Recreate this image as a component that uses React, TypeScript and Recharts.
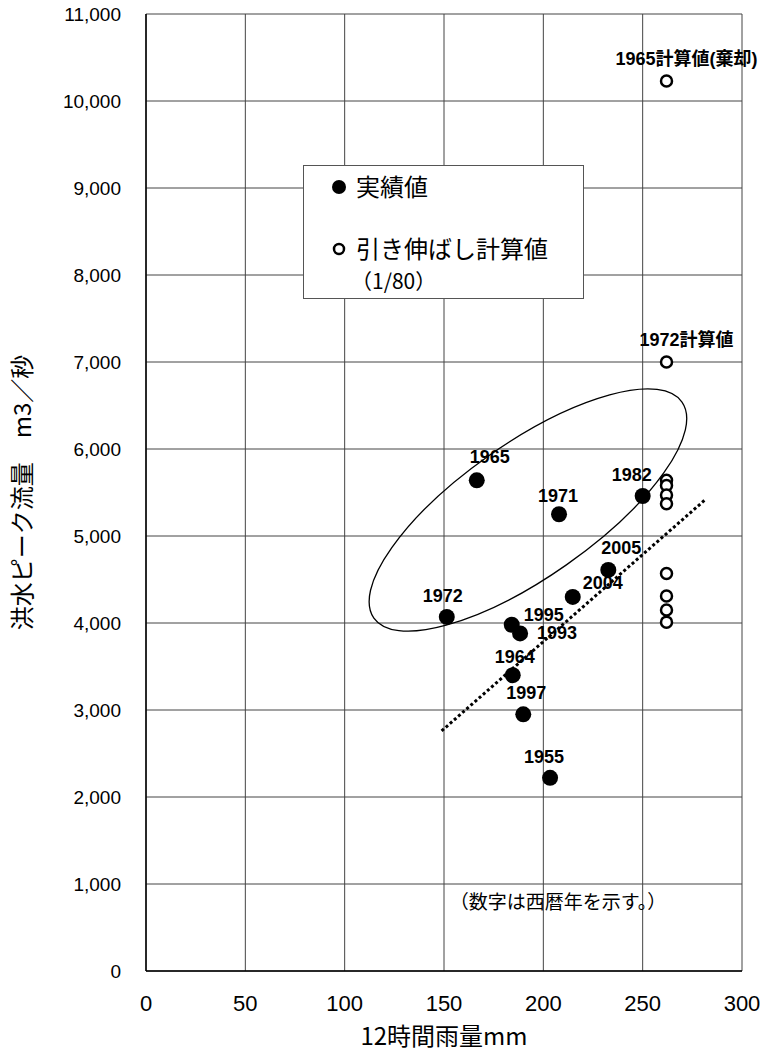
import {
  ScatterChart, Scatter, XAxis, YAxis, CartesianGrid, ReferenceLine, ReferenceDot, Legend,
} from 'recharts';

// measured (actual) floods
const YEARS = ['1965', '1971', '1982', '2005', '2004', '1972', '1995', '1993', '1964', '1997', '1955'];
const RAIN_12H = [166.5, 207.9, 250.0, 232.7, 214.8, 151.4, 184.1, 188.3, 184.6, 189.9, 203.4];
const PEAK_FLOW = [5640, 5250, 5460, 4610, 4300, 4070, 3980, 3880, 3400, 2950, 2220];

// stretched calculations (1/80)
const CALC_RAIN = [262, 262, 262, 262, 262, 262, 262, 262, 262, 262];
const CALC_PEAK = [10230, 7000, 5640, 5580, 5470, 5370, 4570, 4310, 4150, 4010];
const CALC_NAMES = ['1965計算値(棄却)', '1972計算値', '', '', '', '', '', '', '', ''];

const X_TICKS = [0, 50, 100, 150, 200, 250, 300];
const Y_TICKS = [0, 1000, 2000, 3000, 4000, 5000, 6000, 7000, 8000, 9000, 10000, 11000];

// trend (dotted) and grouping ellipse, in data units
const TREND = [{ x: 148.8, y: 2760 }, { x: 281.3, y: 5414 }];
const ELLIPSE_AXIS = [{ x: 114.7, y: 4057 }, { x: 269.8, y: 6540 }];
const ELLIPSE_RATIO = 0.356;

const NOTE = { x: 207.4, y: 793, text: '（数字は西暦年を示す。）' };

const actual = YEARS.map((year, i) => ({ year, x: RAIN_12H[i], y: PEAK_FLOW[i] }));
const calc = CALC_PEAK.map((y, i) => ({ x: CALC_RAIN[i], y, name: CALC_NAMES[i] }));

// label nudges (px) relative to the dot
const NUDGE: Record<string, [number, number]> = {
  '1965': [13, -24], '1971': [-1, -19], '1982': [-11, -21], '2005': [13, -22], '2004': [30, -14],
  '1972': [-4, -21], '1995': [32, -10], '1993': [37, -1], '1964': [2, -19], '1997': [3, -22], '1955': [-6, -21],
};

const W = 768;
const H = 1056;
const X_AXIS_H = 85;
const Y_AXIS_W = 146;
const MARGIN = { top: 14, right: 26, bottom: 0, left: 0 };
const PLOT_W = W - MARGIN.left - MARGIN.right - Y_AXIS_W;
const PLOT_H = H - MARGIN.top - MARGIN.bottom - X_AXIS_H;
const PX_X = PLOT_W / 300;
const PX_Y = PLOT_H / 11000;

const LABEL_FONT = '"Liberation Sans", Arial, "Noto Sans CJK JP", sans-serif';
const JP_FONT = '"Noto Sans CJK JP", sans-serif';

const ActualDot = (props: any) => {
  const { cx, cy, payload } = props;
  const [dx, dy] = NUDGE[payload.year] || [0, -20];
  return (
    <g>
      <circle cx={cx} cy={cy} r={8} fill="#000" />
      <text x={cx + dx} y={cy + dy} dy="0.36em" textAnchor="middle" fontFamily={LABEL_FONT}
        fontWeight="bold" fontSize={18} fill="#000">{payload.year}</text>
    </g>
  );
};

const CalcDot = (props: any) => {
  const { cx, cy, payload } = props;
  return (
    <g>
      <circle cx={cx} cy={cy} r={5.5} fill="#fff" stroke="#000" strokeWidth={2.5} />
      {payload.name && (
        <text x={cx + 20} y={cy - 22} dy="0.36em" textAnchor="middle" fontFamily={LABEL_FONT}
          fontWeight="bold" fontSize={18} fill="#000">{payload.name}</text>
      )}
    </g>
  );
};

const EllipseShape = (props: any) => {
  const { cx, cy } = props;
  const dx = (ELLIPSE_AXIS[1].x - ELLIPSE_AXIS[0].x) * PX_X / 2;
  const dy = -(ELLIPSE_AXIS[1].y - ELLIPSE_AXIS[0].y) * PX_Y / 2;
  const rx = Math.sqrt(dx * dx + dy * dy);
  const angle = (Math.atan2(dy, dx) * 180) / Math.PI;
  return (
    <ellipse cx={cx} cy={cy} rx={rx} ry={rx * ELLIPSE_RATIO} fill="none" stroke="#000"
      strokeWidth={1.3} transform={`rotate(${angle} ${cx} ${cy})`} />
  );
};

const NoteShape = (props: any) => (
  <text x={props.cx} y={props.cy} dy="0.36em" textAnchor="middle" fontFamily={JP_FONT}
    fontSize={19} fill="#000">{NOTE.text}</text>
);

const LegendBox = () => (
  <svg width={281} height={134} style={{ display: 'block' }}>
    <rect x={0.5} y={0.5} width={280} height={133} fill="#fff" stroke="#555" strokeWidth={1} />
    <circle cx={36} cy={22} r={7} fill="#000" />
    <text x={53} y={22} dy="0.36em" fontFamily={JP_FONT} fontSize={24} fill="#000">実績値</text>
    <circle cx={36} cy={84} r={5} fill="#fff" stroke="#000" strokeWidth={2.5} />
    <text x={53} y={84} dy="0.36em" fontFamily={JP_FONT} fontSize={24} fill="#000">引き伸ばし計算値</text>
    <text x={48} y={116} dy="0.36em" fontFamily={JP_FONT} fontSize={21} fill="#000">（1/80）</text>
  </svg>
);

export default function App() {
  const ellipseCenter = {
    x: (ELLIPSE_AXIS[0].x + ELLIPSE_AXIS[1].x) / 2,
    y: (ELLIPSE_AXIS[0].y + ELLIPSE_AXIS[1].y) / 2,
  };
  return (
    <div style={{ position: 'absolute', left: 0, top: 0, width: W, height: H, background: '#fff' }}>
      <ScatterChart width={W} height={H} margin={MARGIN}>
        <CartesianGrid stroke="#444" strokeWidth={1} horizontalValues={Y_TICKS} verticalValues={X_TICKS} />
        <XAxis type="number" dataKey="x" domain={[0, 300]} ticks={X_TICKS} height={X_AXIS_H}
          tickLine={false} tickSize={0} tickMargin={24} axisLine={{ stroke: '#000', strokeWidth: 1.5 }}
          tick={{ fill: '#000', fontSize: 22, fontFamily: '"Liberation Sans", Arial, sans-serif' }}
          label={{ value: '12時間雨量mm', position: 'insideBottom', offset: 11, fill: '#000', fontSize: 24, fontFamily: JP_FONT }} />
        <YAxis type="number" dataKey="y" domain={[0, 11000]} ticks={Y_TICKS} width={Y_AXIS_W}
          tickLine={false} tickSize={0} tickMargin={25} axisLine={{ stroke: '#000', strokeWidth: 1.5 }}
          tickFormatter={(v: number) => v.toLocaleString('en-US')}
          tick={{ fill: '#000', fontSize: 19, fontFamily: '"Liberation Sans", Arial, sans-serif' }}
          label={{ value: '洪水ピーク流量　m3／秒', angle: -90, position: 'insideLeft', offset: 22, fill: '#000',
            fontSize: 24, fontFamily: JP_FONT, style: { textAnchor: 'middle' } }} />
        <ReferenceLine segment={TREND} stroke="#000" strokeWidth={3} strokeDasharray="3 2.5" />
        <ReferenceDot x={ellipseCenter.x} y={ellipseCenter.y} shape={EllipseShape} />
        <ReferenceDot x={NOTE.x} y={NOTE.y} shape={NoteShape} />
        <Scatter data={actual} shape={ActualDot} isAnimationActive={false} />
        <Scatter data={calc} shape={CalcDot} isAnimationActive={false} />
        <Legend layout="vertical" align="center" verticalAlign="middle"
          wrapperStyle={{ left: 303, top: 165, width: 281, height: 134 }} content={() => <LegendBox />} />
      </ScatterChart>
    </div>
  );
}
